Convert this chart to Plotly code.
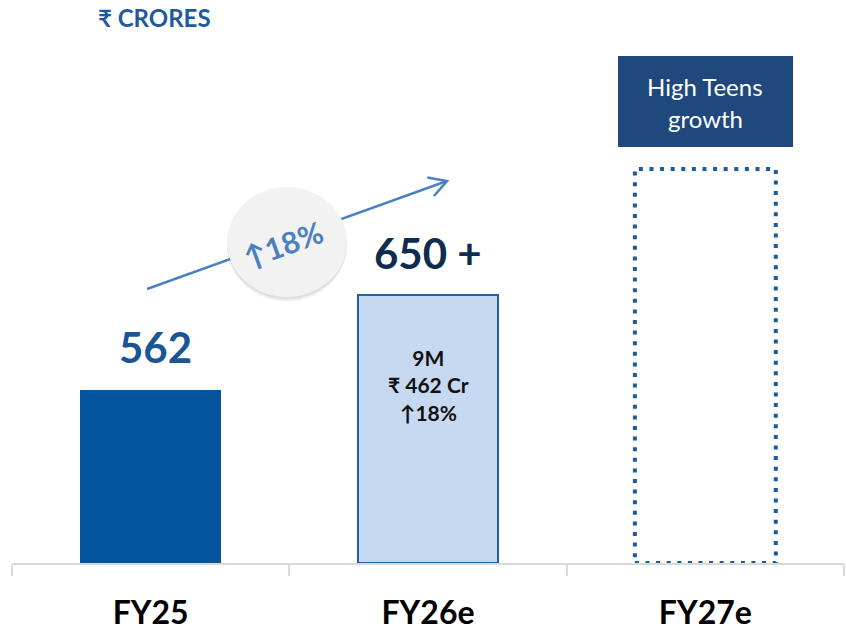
import plotly.graph_objects as go

# ---- data ----
categories = ["FY25", "FY26e", "FY27e"]
bar_heights = [562, 870, 1280]          # drawn height of each bar (chart not to scale)
value_labels = ["562", "650 +", ""]
inner_label = "9M<br>₹ 462 Cr<br>↑18%"
growth_label = "↑18%"
fy27_note = ["High Teens", "growth"]
unit_label = "₹ CRORES"

FONT = "Lato, 'Noto Sans', 'DejaVu Sans', sans-serif"
BAR_W = 0.508

fig = go.Figure()
fig.add_trace(go.Bar(
    x=categories, y=bar_heights, width=BAR_W,
    marker=dict(color=["#03549a", "#c6d9f0", "rgba(0,0,0,0)"],
                line=dict(color=["#03549a", "#2262a2", "rgba(0,0,0,0)"], width=[0, 2, 0])),
    hoverinfo="skip", showlegend=False,
))

shapes = []
# dotted outline for FY27e estimate
shapes.append(dict(type="rect", xref="x", yref="y",
                   x0=2 - BAR_W / 2, x1=2 + BAR_W / 2, y0=0, y1=bar_heights[2],
                   line=dict(color="#1c5a9c", width=4, dash="4px,6.6px"), layer="above"))
# growth arrow (line + open head)
shapes.append(dict(type="line", xref="paper", yref="paper",
                   x0=0.1623, y0=0.4867, x1=0.5228, y1=0.6785,
                   line=dict(color="#4a7fc0", width=2.5), layer="above"))
shapes.append(dict(type="path", xref="paper", yref="paper",
                   path="M0.4992,0.6847 L0.5228,0.6785 L0.5072,0.6519",
                   line=dict(color="#4a7fc0", width=2.5), layer="above"))
# circle shadow + circle
shapes.append(dict(type="circle", xref="paper", yref="paper",
                   x0=0.2584, x1=0.4026, y0=0.4725 - 0.008, y1=0.6679 - 0.004,
                   fillcolor="rgba(0,0,0,0.06)", line=dict(width=0), layer="above"))
shapes.append(dict(type="circle", xref="paper", yref="paper",
                   x0=0.2584, x1=0.4026, y0=0.4725 - 0.004, y1=0.6679 - 0.002,
                   fillcolor="rgba(0,0,0,0.07)", line=dict(width=0), layer="above"))
shapes.append(dict(type="circle", xref="paper", yref="paper",
                   x0=0.2584, x1=0.4026, y0=0.4725, y1=0.6679,
                   fillcolor="#f2f2f2", line=dict(width=0), layer="above"))
# High Teens box
shapes.append(dict(type="rect", xref="paper", yref="paper",
                   x0=0.7284, x1=0.9387, y0=0.7389, y1=0.9005,
                   fillcolor="#1f497d", line=dict(width=0), layer="above"))

annotations = []
annotations.append(dict(x=categories[0], y=bar_heights[0], xref="x", yref="y",
                        text=value_labels[0], showarrow=False, xanchor="center", yanchor="middle",
                        yshift=43, xshift=5,
                        font=dict(family=FONT, size=42, color="#1a5596", weight="bold")))
annotations.append(dict(x=categories[1], y=bar_heights[1], xref="x", yref="y",
                        text=value_labels[1], showarrow=False, xanchor="center", yanchor="middle", yshift=42,
                        font=dict(family=FONT, size=42, color="#0e2d4e", weight="bold")))
annotations.append(dict(x=categories[1], y=bar_heights[1], xref="x", yref="y",
                        text=inner_label, showarrow=False, xanchor="center", yanchor="middle", yshift=-90,
                        font=dict(family=FONT, size=21, color="#111111", weight="bold")))
annotations.append(dict(x=0.3257, y=0.5666, xref="paper", yref="paper",
                        text=growth_label, showarrow=False, textangle=-20,
                        xanchor="center", yanchor="middle",
                        font=dict(family=FONT, size=30, color="#4a7fc0", weight="bold")))
annotations.append(dict(x=0.8335, y=0.8472, xref="paper", yref="paper",
                        text=fy27_note[0], showarrow=False, xanchor="center", yanchor="middle",
                        font=dict(family=FONT, size=24, color="white")))
annotations.append(dict(x=0.8335, y=0.7904, xref="paper", yref="paper",
                        text=fy27_note[1], showarrow=False, xanchor="center", yanchor="middle",
                        font=dict(family=FONT, size=24, color="white")))
annotations.append(dict(x=0.101, y=0.9689, xref="paper", yref="paper",
                        xanchor="left", yanchor="middle",
                        text=unit_label, showarrow=False,
                        font=dict(family=FONT, size=24, color="#1f5aa0", weight="bold")))

fig.update_layout(
    width=846, height=634, autosize=False,
    margin=dict(l=12, r=2, t=0, b=71),
    paper_bgcolor="white", plot_bgcolor="white",
    shapes=shapes, annotations=annotations,
    bargap=0,
    xaxis=dict(range=[-0.5, 2.5], showgrid=False, zeroline=False,
               showline=True, linecolor="#d9d9d9", linewidth=2,
               ticks="outside", tickson="boundaries", ticklen=11, tickwidth=2,
               tickcolor="#d9d9d9", ticklabelstandoff=21,
               tickfont=dict(family=FONT, size=32, color="black", weight="bold")),
    yaxis=dict(range=[0, 1829], visible=False, showgrid=False, zeroline=False),
)

fig.write_html("out.html", config={"displayModeBar": False},
               post_script="document.body.style.margin='0px';")
